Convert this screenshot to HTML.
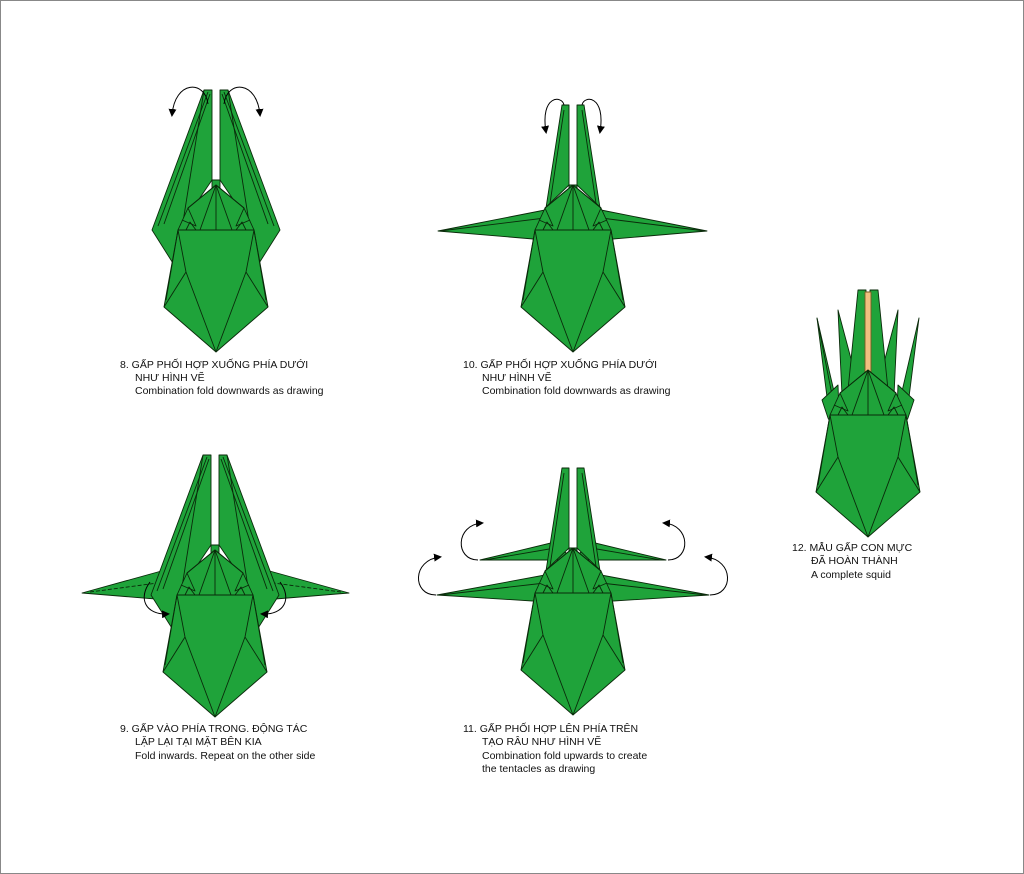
<!DOCTYPE html>
<html><head><meta charset="utf-8"><style>
html,body{margin:0;padding:0;background:#fff}
svg{display:block}
text{font-family:"Liberation Sans",sans-serif;font-size:10.5px;fill:#111}
</style></head><body>
<svg width="1024" height="874" viewBox="0 0 1024 874" xmlns="http://www.w3.org/2000/svg">
<defs>
<marker id="ah" markerWidth="8" markerHeight="8" refX="6" refY="4" orient="auto" markerUnits="userSpaceOnUse" viewBox="0 0 8 8"><path d="M0,0 L8,4 L0,8 Z" fill="#000"/></marker>
<g id="body" stroke="#0a2a0a" stroke-width="0.9" stroke-linejoin="round" fill="#1fa33a">
  <polygon points="-38,0 38,0 52,77 0,122 -52,77"/>
  <polyline fill="none" points="-38,0 -30,42 0,122"/>
  <polyline fill="none" points="38,0 30,42 0,122"/>
  <line x1="-30" y1="42" x2="-52" y2="77"/><line x1="30" y1="42" x2="52" y2="77"/>
  <line x1="-38" y1="0" x2="-50" y2="70"/><line x1="38" y1="0" x2="50" y2="70"/>
  <polygon points="-38,0 -28,-22 0,-45 28,-22 38,0"/>
  <line x1="0" y1="-45" x2="0" y2="0"/>
  <line x1="0" y1="-45" x2="-16" y2="0"/><line x1="0" y1="-45" x2="16" y2="0"/>
  <polyline fill="none" points="-28,-22 -20,-4 -34,-10"/><polyline fill="none" points="28,-22 20,-4 34,-10"/>
  <line x1="0" y1="-45" x2="-28" y2="-22"/><line x1="0" y1="-45" x2="28" y2="-22"/>
  <polyline fill="none" points="-30,0 -26,-8 -20,0"/><polyline fill="none" points="30,0 26,-8 20,0"/>
</g>
<g id="flapsWide" stroke="#0a2a0a" stroke-width="0.9" stroke-linejoin="round" fill="#1fa33a">
  <polygon points="-12,-140 -4,-140 -4,-50 -38,0 -40,38 -64,0"/>
  <line x1="-8" y1="-138" x2="-58" y2="-4"/><line x1="-6" y1="-136" x2="-52" y2="-6"/><line x1="-12" y1="-140" x2="-40" y2="36"/>
  <polygon points="12,-140 4,-140 4,-50 38,0 40,38 64,0"/>
  <line x1="8" y1="-138" x2="58" y2="-4"/><line x1="6" y1="-136" x2="52" y2="-6"/><line x1="12" y1="-140" x2="40" y2="36"/>
  <rect x="-4" y="-50" width="8" height="8"/>
</g>
<g id="flapsNarrow" stroke="#0a2a0a" stroke-width="0.9" stroke-linejoin="round" fill="#1fa33a">
  <polygon points="-11,-125 -4,-125 -4,-45 -28,-22 -32,10"/>
  <line x1="-9" y1="-120" x2="-24" y2="-20"/>
  <polygon points="11,-125 4,-125 4,-45 28,-22 32,10"/>
  <line x1="9" y1="-120" x2="24" y2="-20"/>
  <rect x="-4" y="-45" width="8" height="6"/>
</g>
</defs>
<rect x="0.5" y="0.5" width="1023" height="873" fill="#fff" stroke="#888"/>

<!-- Fig 8 -->
<use href="#flapsWide" x="216" y="230"/>
<use href="#body" x="216" y="230"/>
<path d="M208,104 C205,80 175,80 172,115" fill="none" stroke="#000" stroke-width="1" marker-end="url(#ah)"/>
<path d="M224,104 C227,80 257,80 260,115" fill="none" stroke="#000" stroke-width="1" marker-end="url(#ah)"/>

<!-- Fig 10 -->
<g stroke="#0a2a0a" stroke-width="0.9" fill="#1fa33a" stroke-linejoin="round">
<polygon points="438,231 545,210 545,240"/><line x1="440" y1="231" x2="545" y2="218"/>
<polygon points="707,231 601,210 601,240"/><line x1="705" y1="231" x2="601" y2="218"/>
</g>
<use href="#flapsNarrow" x="573" y="230"/>
<use href="#body" x="573" y="230"/>
<path d="M564,105 C562,95 540,95 546,132" fill="none" stroke="#000" stroke-width="1" marker-end="url(#ah)"/>
<path d="M582,105 C584,95 606,95 600,132" fill="none" stroke="#000" stroke-width="1" marker-end="url(#ah)"/>

<!-- Fig 9 -->
<g stroke="#0a2a0a" stroke-width="0.9" fill="#1fa33a" stroke-linejoin="round">
<polygon points="82,593 165,570 168,600"/><line x1="90" y1="592" x2="165" y2="582" stroke-dasharray="4,2"/>
<polygon points="349,593 266,570 263,600"/><line x1="341" y1="592" x2="266" y2="582" stroke-dasharray="4,2"/>
</g>
<use href="#flapsWide" x="215" y="595"/>
<use href="#body" x="215" y="595"/>
<path d="M150,582 C138,598 145,615 168,614" fill="none" stroke="#000" stroke-width="1" marker-end="url(#ah)"/>
<path d="M280,582 C292,598 285,615 262,614" fill="none" stroke="#000" stroke-width="1" marker-end="url(#ah)"/>

<!-- Fig 11 -->
<g stroke="#0a2a0a" stroke-width="0.9" fill="#1fa33a" stroke-linejoin="round">
<polygon points="437,595 545,575 548,602"/><line x1="440" y1="595" x2="545" y2="583"/>
<polygon points="709,595 601,575 598,602"/><line x1="706" y1="595" x2="601" y2="583"/>
<polygon points="480,560 555,542 573,560"/><line x1="485" y1="560" x2="555" y2="548"/>
<polygon points="666,560 591,542 573,560"/><line x1="661" y1="560" x2="591" y2="548"/>
</g>
<use href="#flapsNarrow" x="573" y="593"/>
<use href="#body" x="573" y="593"/>
<path d="M478,560 C455,560 455,525 482,523" fill="none" stroke="#000" stroke-width="1" marker-end="url(#ah)"/>
<path d="M668,560 C691,560 691,525 664,523" fill="none" stroke="#000" stroke-width="1" marker-end="url(#ah)"/>
<path d="M436,595 C412,595 412,560 440,557" fill="none" stroke="#000" stroke-width="1" marker-end="url(#ah)"/>
<path d="M710,595 C734,595 734,560 706,557" fill="none" stroke="#000" stroke-width="1" marker-end="url(#ah)"/>

<!-- Fig 12 -->
<g stroke="#0a2a0a" stroke-width="0.9" fill="#1fa33a" stroke-linejoin="round">
<polygon points="817,318 836,400 828,405"/><line x1="817" y1="318" x2="832" y2="395"/>
<polygon points="919,318 900,400 908,405"/>
<polygon points="838,310 858,385 842,395"/>
<polygon points="898,310 878,385 894,395"/>
<polygon points="858,290 866,290 866,378 848,390"/>
<polygon points="878,290 870,290 870,378 888,390"/>
<rect x="865" y="292" width="6" height="86" fill="#f0c080" stroke="#7a5a20"/>
<polygon points="822,400 838,385 840,440 828,418"/>
<polygon points="914,400 898,385 896,440 908,418"/>
</g>
<use href="#body" x="868" y="415"/>

<!-- Labels -->
<text x="120" y="368">8. GẤP PHỐI HỢP XUỐNG PHÍA DƯỚI</text>
<text x="135" y="381">NHƯ HÌNH VẼ</text>
<text x="135" y="394">Combination fold downwards as drawing</text>

<text x="463" y="368">10. GẤP PHỐI HỢP XUỐNG PHÍA DƯỚI</text>
<text x="482" y="381">NHƯ HÌNH VẼ</text>
<text x="482" y="394">Combination fold downwards as drawing</text>

<text x="120" y="732">9. GẤP VÀO PHÍA TRONG. ĐỘNG TÁC</text>
<text x="135" y="745">LẶP LẠI TẠI MẶT BÊN KIA</text>
<text x="135" y="759">Fold inwards. Repeat on the other side</text>

<text x="463" y="732">11. GẤP PHỐI HỢP LÊN PHÍA TRÊN</text>
<text x="482" y="745">TẠO RÂU NHƯ HÌNH VẼ</text>
<text x="482" y="759">Combination fold upwards to create</text>
<text x="482" y="772">the tentacles as drawing</text>

<text x="792" y="551">12. MẪU GẤP CON MỰC</text>
<text x="811" y="564">ĐÃ HOÀN THÀNH</text>
<text x="811" y="578">A complete squid</text>
</svg>
</body></html>
